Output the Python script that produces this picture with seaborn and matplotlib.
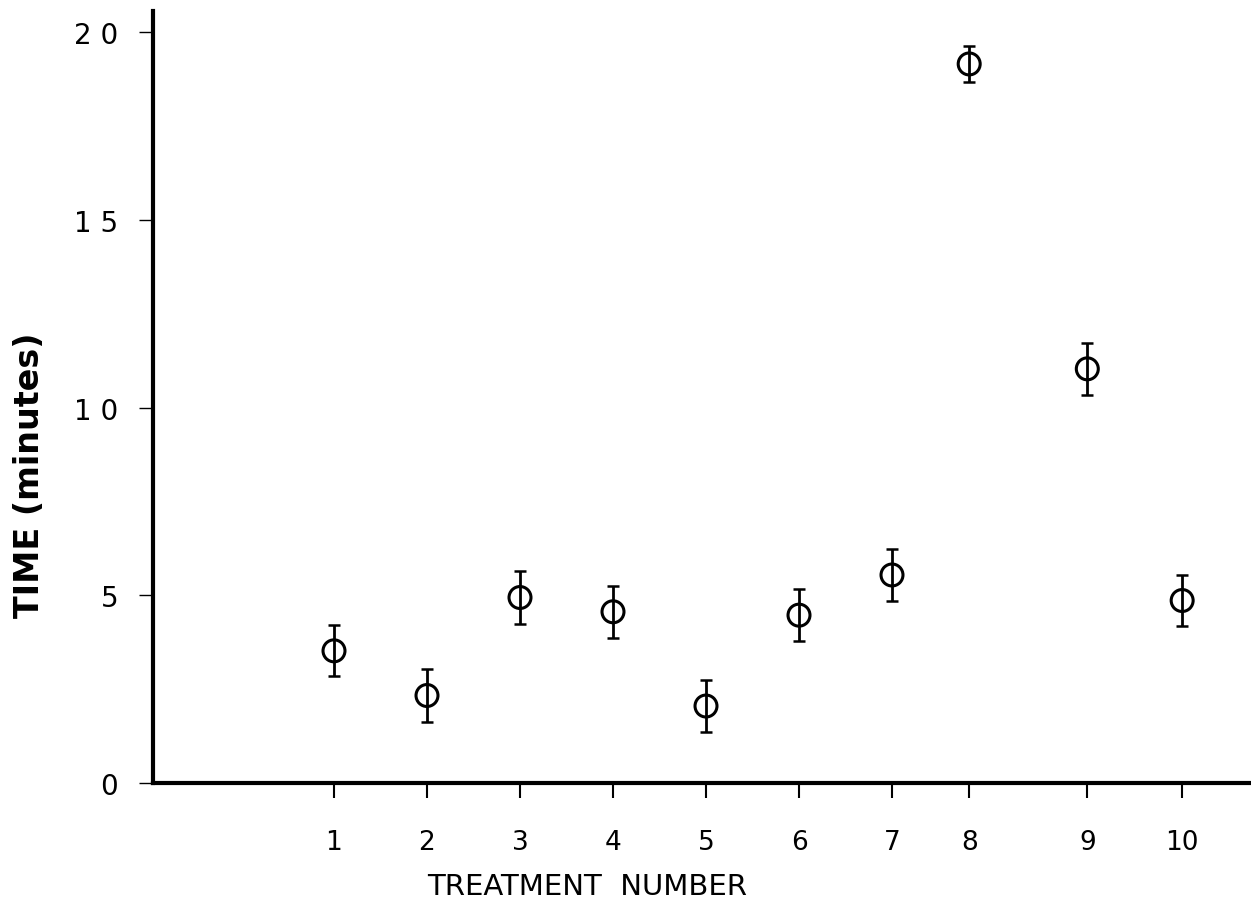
import matplotlib
matplotlib.use("Agg")
import matplotlib.pyplot as plt
import seaborn as sns
import pandas as pd

# ---- data ----
treatments = ["1", "2", "3", "4", "5", "6", "7", "8", "9", "10"]
treatment_pos = [1, 2, 3, 4, 5, 6, 7, 7.83, 9.1, 10.12]
mean_time = [3.52, 2.33, 4.94, 4.56, 2.05, 4.47, 5.54, 19.15, 11.03, 4.86]
err_time = [0.68, 0.70, 0.70, 0.69, 0.70, 0.69, 0.68, 0.47, 0.69, 0.68]
y_ticks = [0, 5, 10, 15, 20]
y_tick_labels = ["0", "5", "1 0", "1 5", "2 0"]

df = pd.DataFrame({"treatment": treatments, "pos": treatment_pos,
                   "time": mean_time, "err": err_time})

sns.set_style("ticks")
plt.rcParams["font.family"] = ["DejaVu Sans"]
plt.rcParams.update({"text.color": "black", "axes.labelcolor": "black",
                     "xtick.color": "black", "ytick.color": "black",
                     "axes.edgecolor": "black"})

W, H = 1251, 904
fig = plt.figure(figsize=(W / 100, H / 100), dpi=100)
ax = fig.add_axes([153 / W, 1 - 784 / H, 1 - 153 / W, (784 - 12) / H])

ax.errorbar(df["pos"], df["time"], yerr=df["err"], fmt="none",
            ecolor="black", elinewidth=2.0, capsize=4.5, capthick=1.8, zorder=2)
sns.scatterplot(data=df, x="pos", y="time", ax=ax, marker="o", s=250,
                facecolor="none", edgecolor="black", linewidth=2.2, zorder=3)

ax.set_xlim(1 + (153 - 334) / 93, 1 + (1251 - 334) / 93)
ax.set_ylim(0, 20.56)

ax.set_xticks(treatment_pos)
ax.set_xticklabels(treatments)
ax.set_yticks(y_ticks)
ax.set_yticklabels(y_tick_labels)

for side in ["top", "right"]:
    ax.spines[side].set_visible(False)
for side in ["left", "bottom"]:
    ax.spines[side].set_linewidth(3)
    ax.spines[side].set_color("black")

ax.tick_params(axis="y", direction="out", length=10, width=1.0,
               labelsize=20, pad=15, color="black", labelcolor="black")
ax.tick_params(axis="x", direction="out", length=11, width=1.5,
               labelsize=19, pad=22, color="black", labelcolor="black")

ax.set_xlabel("TREATMENT  NUMBER", fontsize=21, color="black", va="bottom")
ax.xaxis.set_label_coords(0.395, -0.151)
ax.set_ylabel("TIME (minutes)", fontsize=24, fontweight="bold", color="black")
ax.yaxis.set_label_coords(-0.0975, 0.40)

fig.savefig("out.png", dpi=100)
